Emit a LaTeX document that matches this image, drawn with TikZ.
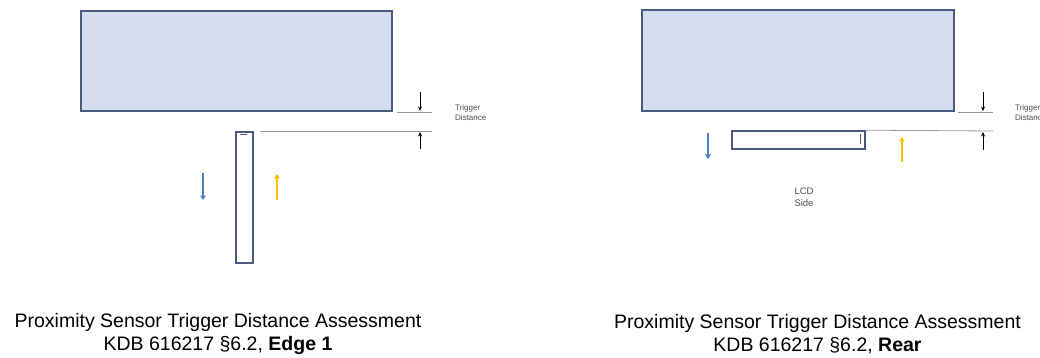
\documentclass[tikz,border=0pt]{standalone}
\usepackage{fontspec}
\setmainfont{Liberation Sans}
\usetikzlibrary{arrows.meta}
\definecolor{screenfill}{HTML}{D3DDEE}
\definecolor{screenline}{HTML}{4A5A7E}
\definecolor{moveblue}{HTML}{4F81BD}
\definecolor{moveyellow}{HTML}{FFC000}

\begin{document}
\begin{tikzpicture}
  [x=1pt,y=-1pt,
   screen/.style={draw=screenline,line width=2pt,fill=screenfill,inner sep=0pt,
     minimum width=311pt,minimum height=100pt},
   device/.style={draw=screenline,line width=1.6pt,fill=white,inner sep=0pt},
   guide/.style={draw=black!40,line width=0.8pt},
   gap/.style={-{Stealth[length=4.5pt,width=4pt]},line width=0.6pt},
   move/.style={-{Triangle[length=4.5pt,width=5.5pt]},line width=2pt},
   small/.style={font=\fontsize{8}{10}\selectfont,align=left,text=black!70,inner sep=0pt},
   caption/.style={font=\fontsize{19.5}{23.5}\selectfont,align=center,inner sep=0pt}]
  \useasboundingbox (0,0) rectangle (1040,358);

  % edge 1
  \node[screen] (tableL) at (236.5,61) {};
  \node[device,minimum width=17pt,minimum height=131pt] (phoneL) at (244.5,197.5) {};
  \draw[screenline,line width=1pt] ([xshift=5pt,yshift=-3.5pt]phoneL.north west) -- ++(7,0);
  \coordinate (topL) at (432,112);
  \coordinate (lowL) at (432,131);
  \draw[guide] (397,112) -- (topL);
  \draw[guide] (260,131) -- (lowL);
  \draw[gap] (420,92) -- (420,111);
  \draw[gap] (420,149) -- (420,132);
  \node[small,anchor=west] (trigL) at (455,113) {Trigger\\Distance};
  \draw[move,moveblue] (203,173) -- (203,200);
  \draw[move,moveyellow] (277,200) -- (277,174);
  \node[caption] (capL) at (218,334) {Proximity Sensor Trigger Distance Assessment\\KDB 616217 §6.2, \textbf{Edge 1}};

  % rear
  \node[screen,minimum width=312pt,minimum height=101pt] (tableR) at (798,60.5) {};
  \node[device,minimum width=133pt,minimum height=18pt] (phoneR) at (798.5,140) {};
  \draw[screenline,line width=1pt] ([xshift=-5pt,yshift=-4pt]phoneR.north east) -- ++(0,10);
  \coordinate (topR) at (993,112);
  \coordinate (lowR) at (993,131);
  \draw[guide] (958,112) -- (topR);
  \draw[guide] (phoneR.north east) -- (lowR);
  \draw[gap] (983,92) -- (983,111);
  \draw[gap] (983,150) -- (983,132);
  \node[small,anchor=west] (trigR) at (1015,113) {Trigger\\Distance};
  \draw[move,moveblue] (708,133) -- (708,159);
  \draw[move,moveyellow] (902,162) -- (902,137);
  \node[small,align=left,font=\fontsize{9.5}{12.5}\selectfont] (lcd) at (804,197) {LCD\\Side};
  \node[caption] (capR) at (817.5,334) {Proximity Sensor Trigger Distance Assessment\\KDB 616217 §6.2, \textbf{Rear}};

\end{tikzpicture}
\end{document}
